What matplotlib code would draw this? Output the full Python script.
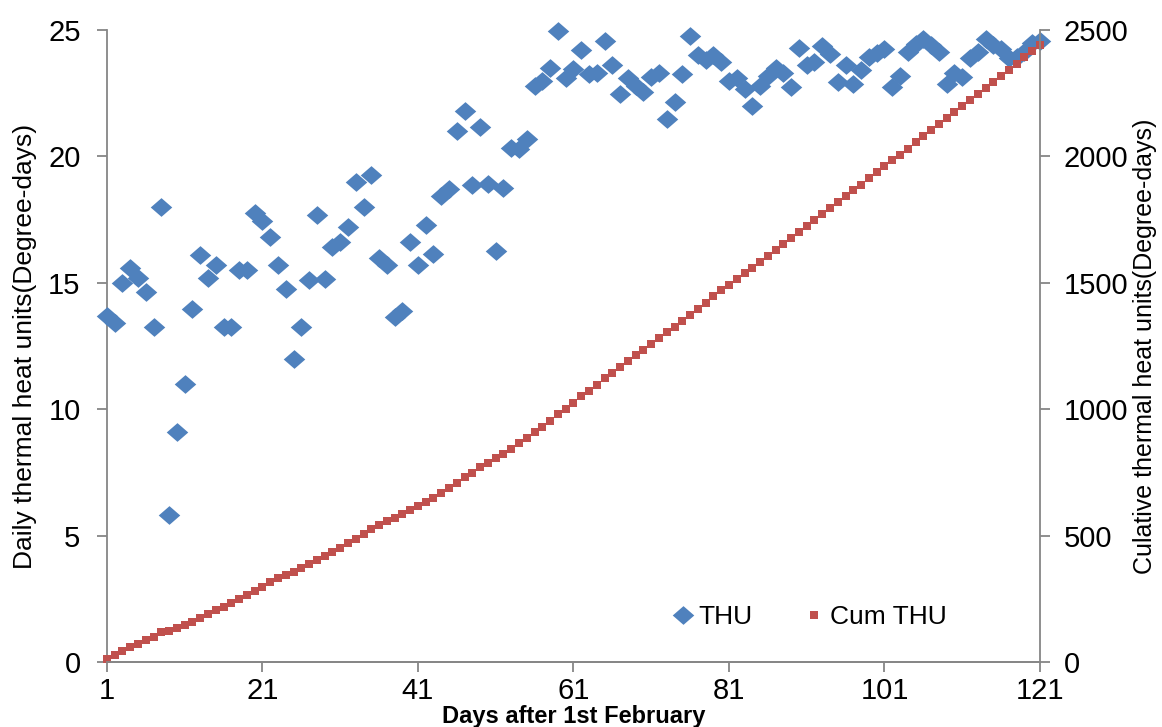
import numpy as np
import matplotlib
matplotlib.use('Agg')
import matplotlib.pyplot as plt

plt.rcParams['font.family'] = ['Liberation Sans Narrow', 'Liberation Sans', 'DejaVu Sans']

days = list(range(1, 122))
thu = [13.7, 13.4, 15.0, 15.6, 15.2, 14.65, 13.25, 18.0, 5.8, 9.1,
       11.0, 13.95, 16.1, 15.2, 15.7, 13.25, 13.25, 15.5, 15.5, 17.75,
       17.45, 16.8, 15.7, 14.75, 12.0, 13.25, 15.1, 17.7, 15.15, 16.4,
       16.6, 17.2, 19.0, 18.0, 19.25, 16.0, 15.7, 13.65, 13.9, 16.6,
       15.7, 17.3, 16.15, 18.45, 18.7, 21.0, 21.8, 18.85, 21.15, 18.9,
       16.25, 18.75, 20.35, 20.3, 20.7, 22.8, 23.0, 23.5, 24.95, 23.1,
       23.45, 24.2, 23.25, 23.3, 24.55, 23.6, 22.45, 23.1, 22.8, 22.55,
       23.15, 23.3, 21.5, 22.15, 23.25, 24.75, 24.0, 23.8, 24.0, 23.75,
       23.0, 23.1, 22.65, 22.0, 22.8, 23.2, 23.5, 23.3, 22.75, 24.3,
       23.6, 23.75, 24.35, 24.05, 22.95, 23.6, 22.85, 23.4, 23.95, 24.1,
       24.25, 22.75, 23.2, 24.15, 24.45, 24.65, 24.4, 24.15, 22.85, 23.3,
       23.15, 23.9, 24.15, 24.65, 24.4, 24.25, 23.9, 23.95, 24.15, 24.5,
       24.55]
cum_thu = np.cumsum(thu)

xticks = [1, 21, 41, 61, 81, 101, 121]

blue = '#4F81BD'
red = '#C0504D'
gray = '#868686'

diamond = [(-1.15, 0), (0, 1), (1.15, 0), (0, -1), (-1.15, 0)]

fig = plt.figure(figsize=(11.62, 7.27), dpi=100)
ax = fig.add_axes([0.092, 0.0894, 0.803, 0.8693])
ax2 = ax.twinx()

ax.plot(days, thu, linestyle='none', marker=diamond, markersize=15.5,
        color=blue, markeredgewidth=0, label='THU', zorder=3, clip_on=False)
ax2.plot(days, cum_thu, linestyle='none', marker='s', markersize=5.2,
         color=red, markeredgewidth=0, label='Cum THU', zorder=2, clip_on=False)

ax.set_xlim(1, 121)
ax.set_ylim(0, 25)
ax2.set_ylim(0, 2500)
ax.set_xticks(xticks)
ax.set_yticks(range(0, 26, 5))
ax2.set_yticks(range(0, 2501, 500))

for a in (ax, ax2):
    a.spines['top'].set_visible(False)
    for s in ('left', 'right', 'bottom'):
        a.spines[s].set_color(gray)
        a.spines[s].set_linewidth(1.3)
    a.tick_params(colors=gray, labelcolor='black', labelsize=21, length=7,
                  width=1.3, direction='out')
ax.tick_params(axis='x', pad=4)
ax.tick_params(axis='y', pad=12)
ax2.tick_params(axis='y', pad=10)
ax2.spines['left'].set_visible(False)
ax.spines['right'].set_visible(False)

ax.set_ylabel('Daily thermal heat units(Degree-days)', fontsize=19, labelpad=8)
ax2.set_ylabel('Culative thermal heat units(Degree-days)', fontsize=18, labelpad=3)
ax.set_xlabel('Days after 1st February', fontsize=17, fontweight='bold', labelpad=0)

h1, l1 = ax.get_legend_handles_labels()
h2, l2 = ax2.get_legend_handles_labels()
ax2.legend(h1 + h2, l1 + l2, loc='lower right', bbox_to_anchor=(0.925, 0.015),
           ncol=2, frameon=False, fontsize=19, handletextpad=0.1,
           handlelength=1.0, columnspacing=1.8, markerscale=1.0)

fig.savefig('out.png', dpi=100)
